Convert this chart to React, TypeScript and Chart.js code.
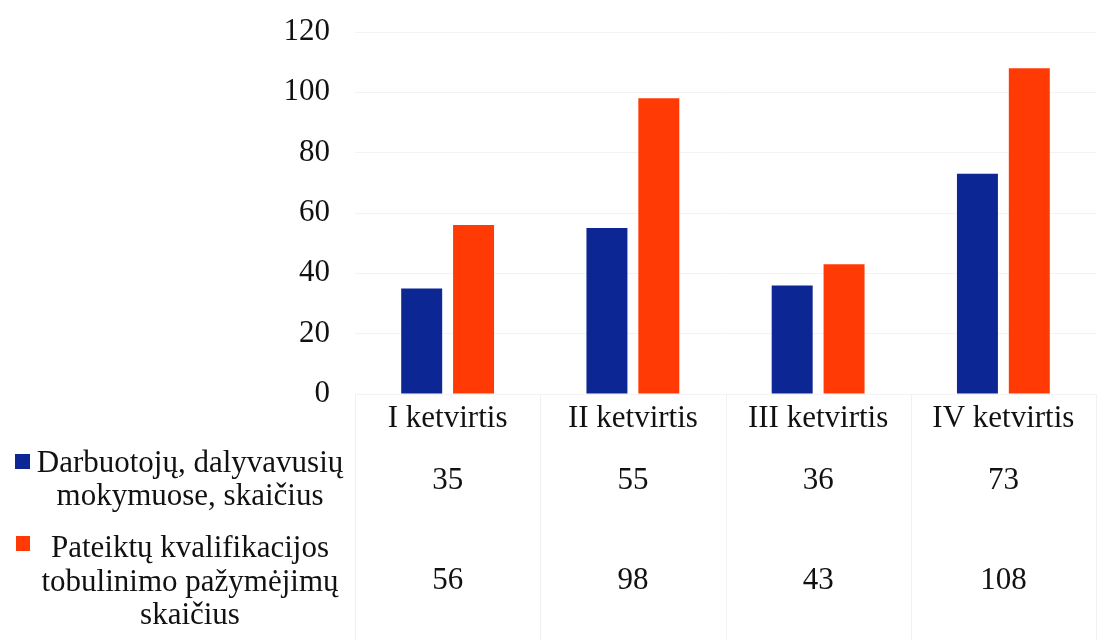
import React, { useEffect, useRef } from "react";
import { Chart, registerables } from "chart.js";

Chart.register(...registerables);

const categories = ["I ketvirtis", "II ketvirtis", "III ketvirtis", "IV ketvirtis"];
const seriesANameLines = ["Darbuotojų, dalyvavusių", "mokymuose, skaičius"];
const seriesBNameLines = ["Pateiktų kvalifikacijos", "tobulinimo pažymėjimų", "skaičius"];
const seriesA = [35, 55, 36, 73];
const seriesB = [56, 98, 43, 108];
const yTicks = [0, 20, 40, 60, 80, 100, 120];

const BLUE = "#0c2793";
const ORANGE = "#ff3a05";
const FONT = "'Liberation Serif', 'Times New Roman', serif";
const FS = 31;

const tablePlugin = {
  id: "dataTable",
  afterDraw(chart: any) {
    const ctx = chart.ctx;
    const x = chart.scales.x;
    const area = chart.chartArea;
    ctx.save();
    // faint table borders
    ctx.strokeStyle = "#f1f1f1";
    ctx.lineWidth = 1;
    const step = x.getPixelForValue(1) - x.getPixelForValue(0);
    for (let i = 0; i <= categories.length; i++) {
      const px = Math.round(x.getPixelForValue(0) - step / 2 + i * step) + 0.5;
      ctx.beginPath();
      ctx.moveTo(px, area.bottom);
      ctx.lineTo(px, 640);
      ctx.stroke();
    }

    ctx.fillStyle = "#111";
    ctx.font = `${FS}px ${FONT}`;
    ctx.textAlign = "center";
    ctx.textBaseline = "middle";
    categories.forEach((_, i) => {
      const px = x.getPixelForValue(i);
      ctx.fillText(String(seriesA[i]), px, 481);
      ctx.fillText(String(seriesB[i]), px, 581);
    });

    // series names
    const cx = 190;
    ctx.fillText(seriesANameLines[0], cx, 464);
    ctx.fillText(seriesANameLines[1], cx, 497);
    ctx.fillText(seriesBNameLines[0], cx, 549);
    ctx.fillText(seriesBNameLines[1], cx, 583);
    ctx.fillText(seriesBNameLines[2], cx, 616);

    ctx.fillStyle = BLUE;
    ctx.fillRect(15, 454, 15, 15);
    ctx.fillStyle = ORANGE;
    ctx.fillRect(16, 536, 14, 15);
    ctx.restore();
  },
};

export default function App() {
  const ref = useRef<HTMLCanvasElement>(null);
  useEffect(() => {
    if (!ref.current) return;
    const chart = new Chart(ref.current, {
      type: "bar",
      data: {
        labels: categories,
        datasets: [
          { label: seriesANameLines.join(" "), data: seriesA, backgroundColor: BLUE },
          { label: seriesBNameLines.join(" "), data: seriesB, backgroundColor: ORANGE },
        ],
      },
      options: {
        responsive: false,
        animation: false,
        layout: { padding: { left: 0, right: 18, top: 32, bottom: 206 } },
        plugins: { legend: { display: false }, tooltip: { enabled: false } },
        datasets: { bar: { barPercentage: 0.79, categoryPercentage: 0.56 } },
        scales: {
          x: {
            grid: { display: false, drawTicks: false },
            border: { display: false },
            ticks: { color: "#111", font: { family: FONT, size: FS }, padding: 6 },
            afterFit: (s: any) => {
              s.height = 40;
              s.paddingLeft = 0;
              s.paddingRight = 0;
            },
          },
          y: {
            min: 0,
            max: 120,
            afterBuildTicks: (s: any) => {
              s.ticks = yTicks.map((v) => ({ value: v }));
            },
            grid: { color: "#f3f3f3", drawTicks: false },
            border: { display: false },
            ticks: { color: "#111", font: { family: FONT, size: FS }, padding: 25 },
            afterFit: (s: any) => {
              s.width = 355;
              s.paddingTop = 0;
              s.paddingBottom = 0;
            },
          },
        },
      },
      plugins: [tablePlugin],
    });
    return () => chart.destroy();
  }, []);
  return (
    <div style={{ position: "fixed", left: 0, top: 0, width: 1114, height: 640, background: "#fff" }}>
      <canvas ref={ref} width={1114} height={640} style={{ display: "block" }} />
    </div>
  );
}
